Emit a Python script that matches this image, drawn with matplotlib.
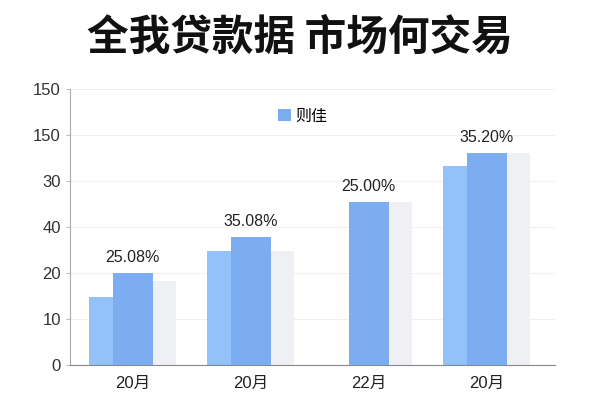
import matplotlib
matplotlib.use("Agg")
import matplotlib.pyplot as plt
import numpy as np

plt.rcParams['font.family'] = ['Liberation Sans', 'Noto Sans CJK SC', 'DejaVu Sans']

title = "全我贷款据 市场何交易"
categories = ["20月", "20月", "22月", "20月"]
light_vals = [14.8, 24.8, 0, 43.3]
main_vals = [20.0, 27.8, 35.4, 46.1]
grey_vals = [18.3, 24.8, 35.4, 46.1]
pct_labels = ["25.08%", "35.08%", "25.00%", "35.20%"]
legend_name = "则佳"
ytick_vals = [0, 10, 20, 30, 40, 50, 60]
ytick_labels = ["0", "10", "20", "40", "30", "150", "150"]

CJK = ['Noto Sans CJK SC', 'DejaVu Sans']


def main():
    fig = plt.figure(figsize=(6, 4), dpi=100)
    fig.patch.set_facecolor("white")
    ax = fig.add_axes([0.1167, 0.0875, 0.8083, 0.69])

    x = np.arange(len(categories))
    w = 0.34
    off = 0.195

    ax.bar(x - off, light_vals, w, color="#93c1f9", zorder=2)
    ax.bar(x + off, grey_vals, w, color="#eef0f4", zorder=2)
    bars = ax.bar(x, main_vals, w, color="#7badf0", zorder=3, label=legend_name)

    for b, lab in zip(bars, pct_labels):
        ax.annotate(lab, (b.get_x() + b.get_width() / 2, b.get_height()),
                    xytext=(0, 6), textcoords="offset points",
                    ha="center", va="bottom", fontsize=11.5, color="#222222")

    ax.set_xlim(-0.53, 3.58)
    ax.set_ylim(0, 60)
    ax.set_yticks(ytick_vals)
    ax.set_yticklabels(ytick_labels)
    ax.set_xticks(x)
    ax.set_xticklabels(categories)
    ax.tick_params(axis="y", labelsize=12, colors="#333333", length=3, color="#bbbbbb")
    ax.tick_params(axis="x", labelsize=12, colors="#222222", length=0, pad=8)

    ax.grid(axis="y", color="#f0f0f0", linewidth=0.8, zorder=0)
    ax.set_axisbelow(True)
    for s in ["top", "right"]:
        ax.spines[s].set_visible(False)
    ax.spines["left"].set_color("#aaaaaa")
    ax.spines["bottom"].set_color("#888888")

    leg = ax.legend(loc="upper center", bbox_to_anchor=(0.48, 0.985), frameon=False,
                    fontsize=11.5, handlelength=0.8, handleheight=0.8, handletextpad=0.3)
    for t in leg.get_texts():
        t.set_family(CJK)

    fig.text(0.5, 0.905, title, ha="center", va="center", fontsize=30,
             fontweight="heavy", color="#111111", family=CJK)

    fig.savefig("out.png", dpi=100, facecolor="white")


if __name__ == "__main__":
    main()
